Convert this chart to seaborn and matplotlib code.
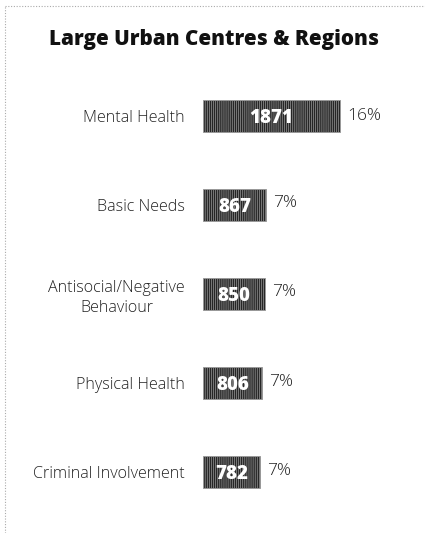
import matplotlib
matplotlib.use("Agg")
import matplotlib.pyplot as plt
import matplotlib.lines as mlines
import seaborn as sns
import pandas as pd

categories = ["Mental Health", "Basic Needs", "Antisocial/Negative\nBehaviour",
              "Physical Health", "Criminal Involvement"]
counts = [1871, 867, 850, 806, 782]
percents = ["16%", "7%", "7%", "7%", "7%"]

sns.set_theme(style="white")
plt.rcParams["font.family"] = ["Open Sans", "DejaVu Sans"]
plt.rcParams["hatch.color"] = "#767676"
plt.rcParams["hatch.linewidth"] = 0.5

df = pd.DataFrame({"category": categories, "count": counts})

W, H = 425, 533
fig = plt.figure(figsize=(W / 100, H / 100), dpi=100)
fig.patch.set_facecolor("white")

# axes placed in pixel units
x0, x1 = 203, 415
ytop, ybot = 71.5, 517.0
ax = fig.add_axes([x0 / W, 1 - ybot / H, (x1 - x0) / W, (ybot - ytop) / H])

sns.barplot(data=df, x="count", y="category", orient="h", ax=ax,
            color="#262626", width=0.36, saturation=1)
ax.set_xlim(0, (x1 - x0) / 0.0732)

for p in ax.patches:
    p.set_hatch("||||||||")
    p.set_edgecolor("#9a9a9a")
    p.set_linewidth(0.6)

for i, (c, pct) in enumerate(zip(counts, percents)):
    ax.text(c / 2, i + 0.02, f"{c}", ha="center", va="center", color="white",
            fontsize=13.5, fontweight="heavy", family=["Open Sans", "DejaVu Sans"])
    ax.text(c + 95, i - 0.02 * (i > 0), pct, ha="left", va="center", color="#222222",
            fontsize=12.5, fontweight="light")

ax.set_xlabel("")
ax.set_ylabel("")
ax.set_xticks([])
ax.tick_params(axis="y", length=0, pad=13, labelsize=11.6, labelcolor="#222222")
for lab in ax.get_yticklabels():
    lab.set_horizontalalignment("right")
    lab.set_multialignment("center")
    lab.set_linespacing(1.3)
    lab.set_fontweight("light")
sns.despine(ax=ax, left=True, bottom=True)

fig.text(214 / W, 1 - 40 / H, "Large Urban Centres & Regions", ha="center", va="center",
         fontsize=14.9, fontweight="heavy", family=["Open Sans", "DejaVu Sans"], color="#111111")

# dotted frame along top and left edges
fig.add_artist(mlines.Line2D([5 / W, 1], [1 - 6 / H, 1 - 6 / H], transform=fig.transFigure,
                             color="#aaaaaa", linestyle=(0, (1, 1.5)), linewidth=0.8))
fig.add_artist(mlines.Line2D([5 / W, 5 / W], [0, 1 - 6 / H], transform=fig.transFigure,
                             color="#aaaaaa", linestyle=(0, (1, 1.5)), linewidth=0.8))

fig.savefig("out.png", dpi=100, facecolor="white")
